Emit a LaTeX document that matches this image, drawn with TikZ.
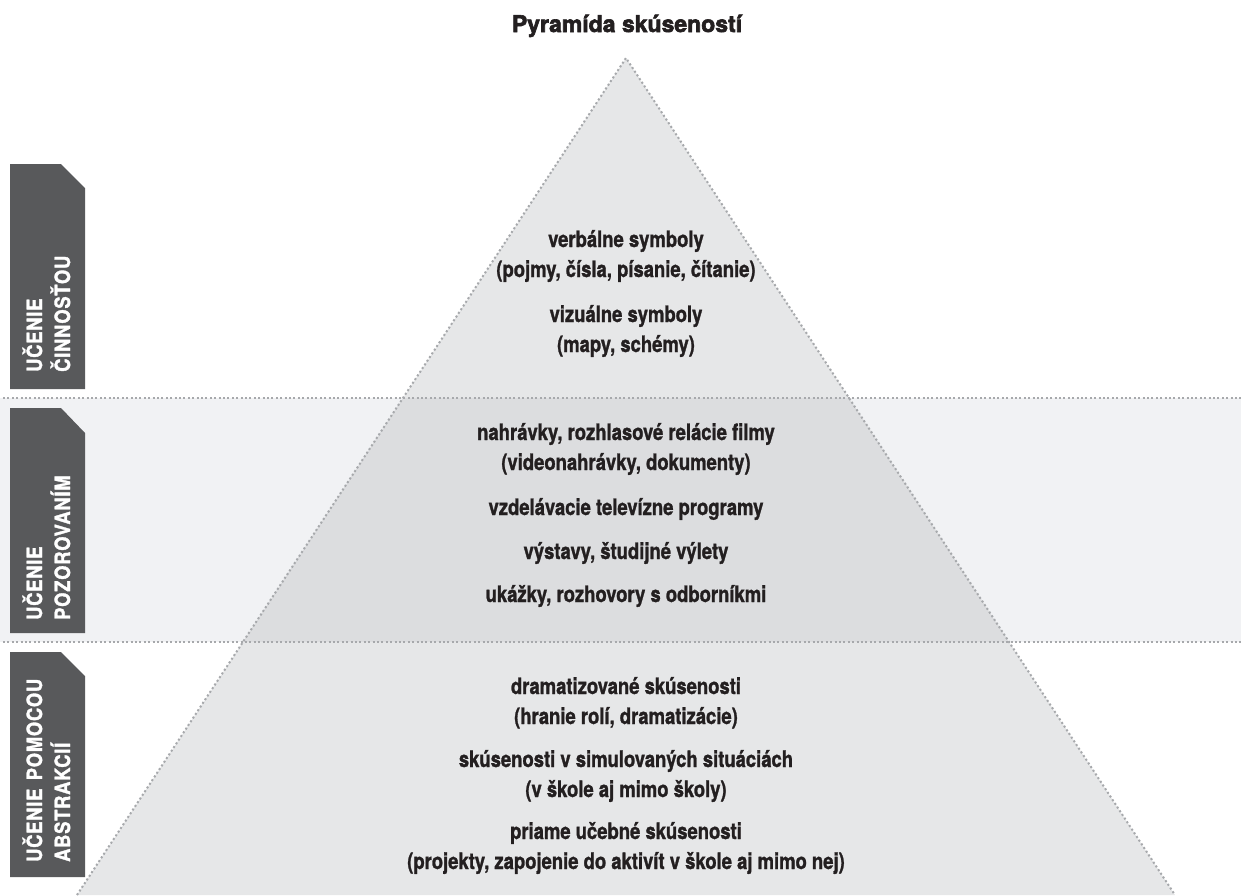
\documentclass[tikz,border=0pt]{standalone}
\usepackage{fontspec}
\setmainfont{TeX Gyre Heros}
\newfontfamily\bodyf{TeX Gyre Heros}[UprightFont=* Bold, FakeStretch=0.82, FakeBold=1.2]
\newfontfamily\titlef{TeX Gyre Heros}[UprightFont=* Bold, FakeBold=2.6, FakeStretch=1.0]
\newfontfamily\labf{TeX Gyre Heros}[UprightFont=* Bold, FakeStretch=0.87, FakeBold=1.6, LetterSpace=4]
\definecolor{pyr}{HTML}{E6E7E8}
\definecolor{band}{HTML}{F1F2F4}
\definecolor{overlap}{HTML}{DCDDDF}
\definecolor{boxc}{HTML}{58595B}
\definecolor{dotc}{HTML}{A7A9AC}
\definecolor{txt}{HTML}{231F20}
\tikzset{
  dotline/.style={draw=dotc, line width=2pt, dash pattern=on 2pt off 2.4pt},
  labbox/.style={fill=boxc},
  body/.style={font=\bodyf\fontsize{22.5}{26}\selectfont, text=txt, inner sep=0pt, anchor=base},
  lab/.style={font=\labf\fontsize{21}{24}\selectfont, text=white, inner sep=0pt, rotate=90, anchor=base west},
}
\begin{document}
\begin{tikzpicture}[x=1pt,y=-1pt]
\useasboundingbox (0,0) rectangle (1241,895);
% band
\fill[band] (0,398) rectangle (1241,642);
% pyramid
\coordinate (apex) at (626,58);
\coordinate (bl) at (77,895);
\coordinate (br) at (1175,895);
\fill[pyr] (apex) -- (br) -- (bl) -- cycle;
\begin{scope}
  \clip (apex) -- (br) -- (bl) -- cycle;
  \fill[overlap] (0,398) rectangle (1241,642);
\end{scope}
% dotted lines
\coordinate (l1a) at (3,398);
\coordinate (l1b) at (1241,398);
\coordinate (l2a) at (3,642);
\coordinate (l2b) at (1241,642);
\draw[dotline] (l1a) -- (l1b);
\draw[dotline] (l2a) -- (l2b);
\draw[dotline] (bl) -- (apex) -- (br);
% title
\node[font=\titlef\fontsize{23}{26}\selectfont, text=txt, inner sep=0pt, anchor=base] (title) at (627,32) {Pyramída skúseností};
% left boxes
\fill[labbox] (10,164) -- (61,164) -- (85,188) -- (85,389) -- (10,389) -- cycle;
\fill[labbox] (10,408) -- (61,408) -- (85,433) -- (85,633) -- (10,633) -- cycle;
\fill[labbox] (10,652) -- (61,652) -- (85,676) -- (85,877) -- (10,877) -- cycle;
\node[lab] (a1) at (42,372) {UČENIE};
\node[lab] (a2) at (70,372) {ČINNOSŤOU};
\node[lab] (b1) at (42,620) {UČENIE};
\node[lab] (b2) at (70,620) {POZOROVANÍM};
\node[lab] (c1) at (42,862) {UČENIE\hspace{0.4em}POMOCOU};
\node[lab] (c2) at (70,862) {ABSTRAKCIÍ};
% texts
\node[body] (t1) at (626,247) {verbálne symboly};
\node[body] (t2) at (626,277) {(pojmy, čísla, písanie, čítanie)};
\node[body] (t3) at (626,322) {vizuálne symboly};
\node[body] (t4) at (626,352) {(mapy, schémy)};
\node[body] (t5) at (626,440) {nahrávky, rozhlasové relácie filmy};
\node[body] (t6) at (626,470) {(videonahrávky, dokumenty)};
\node[body] (t7) at (626,515) {vzdelávacie televízne programy};
\node[body] (t8) at (626,559) {výstavy, študijné výlety};
\node[body] (t9) at (626,602) {ukážky, rozhovory s odborníkmi};
\node[body] (t10) at (626,694) {dramatizované skúsenosti};
\node[body] (t11) at (626,724) {(hranie rolí, dramatizácie)};
\node[body] (t12) at (626,767) {skúsenosti v simulovaných situáciách};
\node[body] (t13) at (626,797) {(v škole aj mimo školy)};
\node[body] (t14) at (626,839) {priame učebné skúsenosti};
\node[body] (t15) at (626,869) {(projekty, zapojenie do aktivít v škole aj mimo nej)};
\end{tikzpicture}
\end{document}
